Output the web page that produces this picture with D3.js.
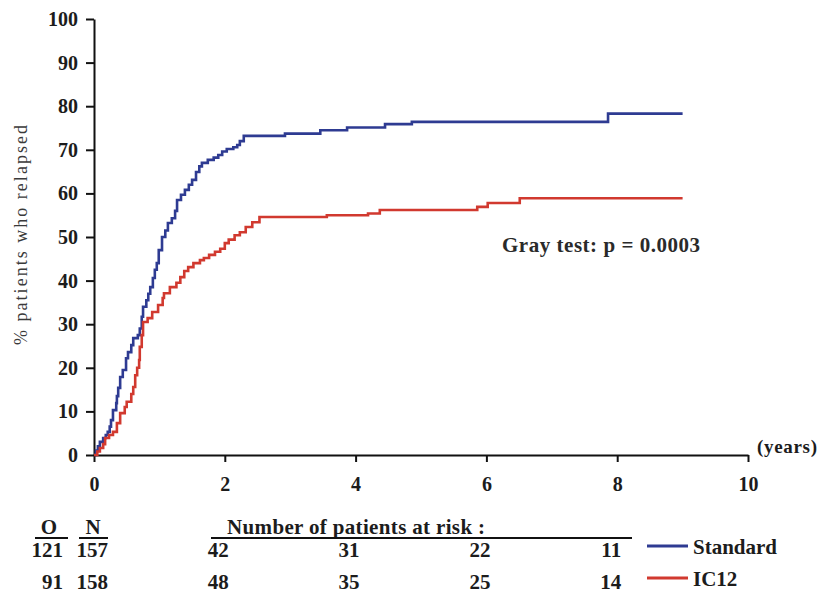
<!DOCTYPE html>
<html>
<head>
<meta charset="utf-8">
<script src="https://cdn.jsdelivr.net/npm/d3@7"></script>
<style>
  body { margin: 0; background: #fff; }
  svg text { font-family: "Liberation Serif", "DejaVu Serif", serif; }
</style>
</head>
<body>
<script>
// step points: years, % relapsed
var stdTime  = [0, 0.03, 0.06, 0.09, 0.14, 0.18, 0.21, 0.24, 0.26, 0.29, 0.34, 0.35, 0.37, 0.40, 0.44, 0.49, 0.52, 0.57, 0.60, 0.67, 0.70, 0.73, 0.75, 0.80, 0.83, 0.86, 0.90, 0.93, 0.96, 0.99, 1.04, 1.09, 1.13, 1.19, 1.24, 1.27, 1.33, 1.39, 1.45, 1.50, 1.56, 1.61, 1.65, 1.74, 1.83, 1.90, 1.96, 2.03, 2.13, 2.19, 2.23, 2.29, 2.92, 3.46, 3.87, 4.45, 4.86, 7.86, 9.0]
var stdValue = [0, 1, 2, 3, 3.9, 4.6, 5.3, 6.5, 8, 10.3, 11.9, 13.5, 15.4, 17.9, 19.5, 22.2, 23.6, 25.2, 26.8, 27.5, 29, 31.7, 34, 35.5, 37, 38.5, 40.6, 42.5, 44, 47, 50, 51.5, 53.2, 54.3, 56, 58.5, 59.7, 60.8, 62, 63.1, 64.9, 66.2, 67, 67.7, 68.2, 68.8, 69.6, 70.2, 70.6, 71.1, 72, 73.2, 73.7, 74.5, 75.1, 75.9, 76.4, 78.3, 78.3]

var icTime  = [0, 0.05, 0.09, 0.14, 0.17, 0.23, 0.29, 0.35, 0.40, 0.47, 0.50, 0.57, 0.60, 0.63, 0.66, 0.69, 0.70, 0.73, 0.75, 0.82, 0.89, 0.98, 1.05, 1.07, 1.16, 1.26, 1.32, 1.38, 1.44, 1.52, 1.62, 1.68, 1.76, 1.85, 1.93, 2.00, 2.06, 2.15, 2.23, 2.32, 2.42, 2.53, 3.56, 4.19, 4.37, 5.86, 6.02, 6.51, 9.0]
var icValue = [0, 0.8, 1.6, 2.5, 3.9, 4.6, 5.3, 7.3, 9.6, 11, 12.2, 14, 15.6, 18.3, 20, 21.8, 24.8, 27.5, 30.5, 31.4, 32.8, 34.4, 36, 37.1, 38.5, 39.5, 40.8, 42.2, 43.1, 44, 44.7, 45.2, 45.9, 46.6, 47.3, 48.6, 49.4, 50.4, 51.1, 52.3, 53.4, 54.6, 55.0, 55.4, 56.2, 56.9, 57.8, 58.9, 58.9]

var yTicks = [0, 10, 20, 30, 40, 50, 60, 70, 80, 90, 100]
var xTicks = [0, 2, 4, 6, 8, 10]

var groups = ["Standard", "IC12"]
var observed = [121, 91]
var numbers = [157, 158]
var riskTimes = [2, 4, 6, 8]
var riskStd = [42, 31, 22, 11]
var riskIC12 = [48, 35, 25, 14]

var blue = "#2e3b92"
var red = "#d1392f"

var svg = d3.select("body")
	.append("svg")
	.attr("width", 823)
	.attr("height", 593)

var x = d3.scaleLinear().domain([0, 10]).range([94, 748])
var y = d3.scaleLinear().domain([0, 100]).range([455, 19])

// axes
var yAxis = svg.append("g")
	.attr("transform", "translate(94,0)")
	.call(d3.axisLeft(y).tickValues(yTicks).tickSize(8).tickPadding(8).tickSizeOuter(0))
var xAxis = svg.append("g")
	.attr("transform", "translate(0,455)")
	.call(d3.axisBottom(x).tickValues(xTicks).tickSize(7).tickPadding(15).tickSizeOuter(0))

svg.selectAll(".domain, .tick line")
	.attr("stroke", "#111")
	.attr("stroke-width", 2)

svg.selectAll(".tick text")
	.attr("font-family", "Liberation Serif")
	.attr("font-size", 20)
	.attr("font-weight", "bold")
	.attr("fill", "#1c1c1c")

svg.append("text")
	.attr("x", 757)
	.attr("y", 453)
	.attr("font-size", 19)
	.attr("font-weight", "bold")
	.attr("fill", "#1c1c1c")
	.attr("textLength", 60)
	.text("(years)")

svg.append("text")
	.attr("transform", "translate(27,235) rotate(-90)")
	.attr("text-anchor", "middle")
	.attr("font-size", 18)
	.attr("fill", "#3a3a3a")
	.attr("textLength", 220)
	.attr("lengthAdjust", "spacing")
	.text("% patients who relapsed")

// curves
var line = d3.line()
	.x(function(d) { return x(d[0]) })
	.y(function(d) { return y(d[1]) })
	.curve(d3.curveStepAfter)

var curves = [
	{ pts: d3.zip(stdTime, stdValue), color: blue },
	{ pts: d3.zip(icTime, icValue), color: red }
]

svg.selectAll(".curve")
	.data(curves)
	.enter()
	.append("path")
	.attr("class", "curve")
	.attr("d", function(c) { return line(c.pts) })
	.attr("fill", "none")
	.attr("stroke", function(c) { return c.color })
	.attr("stroke-width", 2.6)

svg.append("text")
	.attr("x", 502)
	.attr("y", 252)
	.attr("font-size", 21)
	.attr("font-weight", "bold")
	.attr("fill", "#2a2a2a")
	.attr("textLength", 198)
	.text("Gray test: p = 0.0003")

// risk table
var bold = function(sel) {
	return sel.attr("font-size", 21).attr("font-weight", "bold").attr("fill", "#1c1c1c")
}

bold(svg.append("text").attr("x", 49).attr("y", 534).attr("text-anchor", "middle")).text("O")
bold(svg.append("text").attr("x", 93).attr("y", 534).attr("text-anchor", "middle")).text("N")
bold(svg.append("text").attr("x", 227).attr("y", 534).attr("textLength", 258)).text("Number of patients at risk :")

var rules = [[35, 68], [79, 108], [211, 632]]
svg.selectAll(".rule")
	.data(rules)
	.enter()
	.append("line")
	.attr("x1", function(d) { return d[0] })
	.attr("x2", function(d) { return d[1] })
	.attr("y1", 538)
	.attr("y2", 538)
	.attr("stroke", "#111")
	.attr("stroke-width", 2)

var rowY = [557, 589]
var risk = [riskStd, riskIC12]

groups.forEach(function(g, i) {
	bold(svg.append("text").attr("x", 63).attr("y", rowY[i]).attr("text-anchor", "end")).text(observed[i])
	bold(svg.append("text").attr("x", 108).attr("y", rowY[i]).attr("text-anchor", "end")).text(numbers[i])
	riskTimes.forEach(function(t, j) {
		bold(svg.append("text").attr("x", x(t) + 4).attr("y", rowY[i]).attr("text-anchor", "end")).text(risk[i][j])
	})
	svg.append("line")
		.attr("x1", 647).attr("x2", 688)
		.attr("y1", rowY[i] - 11).attr("y2", rowY[i] - 11)
		.attr("stroke", curves[i].color)
		.attr("stroke-width", 3)
	bold(svg.append("text").attr("x", 693).attr("y", rowY[i] - 3)).text(g)
})
</script>
</body>
</html>
